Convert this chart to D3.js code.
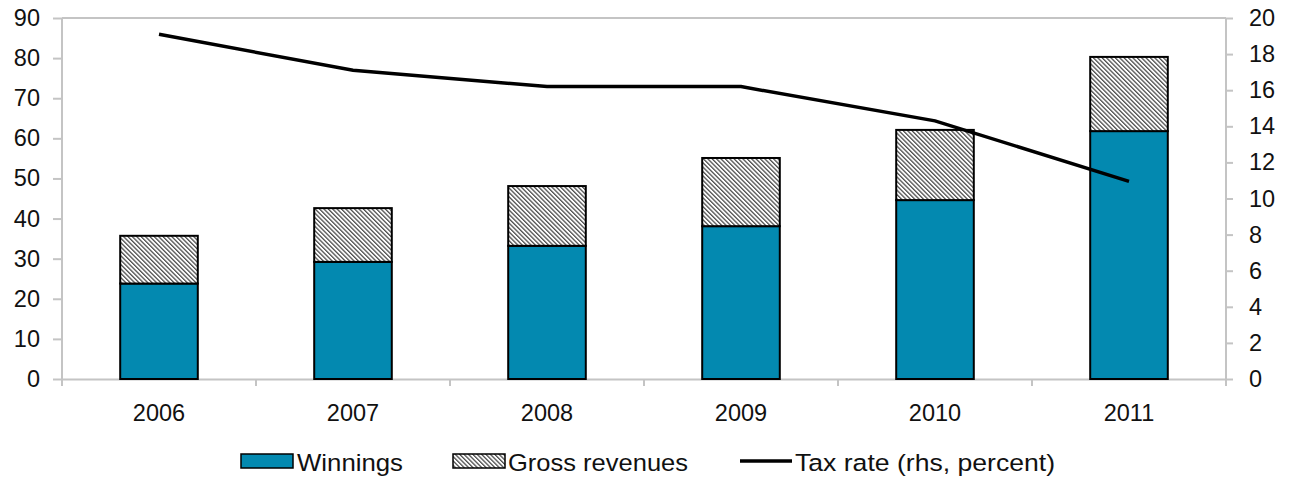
<!DOCTYPE html>
<html>
<head>
<meta charset="utf-8">
<script src="https://cdn.jsdelivr.net/npm/d3@7"></script>
<style>
  body { margin: 0; background: #fff; }
  svg { display: block; font-family: "Liberation Sans", Arial, sans-serif; }
</style>
</head>
<body>
<svg id="chart"></svg>
<script>
const years = ['2006', '2007', '2008', '2009', '2010', '2011'];
const winnings = [23.8, 29.2, 33.2, 38.1, 44.6, 61.8];
const grossRevenues = [11.9, 13.4, 14.9, 17.0, 17.5, 18.5];
const taxRate = [19.1, 17.1, 16.2, 16.2, 14.3, 10.95];
const leftTicks = [0, 10, 20, 30, 40, 50, 60, 70, 80, 90];
const rightTicks = [0, 2, 4, 6, 8, 10, 12, 14, 16, 18, 20];

const svgWidth = 1293;
const svgHeight = 479;
const plotLeft = 62, plotRight = 1226, plotTop = 18, plotBottom = 379;
const axisGrey = '#c4c4c4';

const svg = d3.select('#chart')
  .attr('width', svgWidth)
  .attr('height', svgHeight);

// hatch for gross revenues (lines running top-left to bottom-right)
const defs = svg.append('defs');
const pat = defs.append('pattern')
  .attr('id', 'hatch')
  .attr('patternUnits', 'userSpaceOnUse')
  .attr('width', 3.1)
  .attr('height', 3.1)
  .attr('patternTransform', 'rotate(-45)');
pat.append('rect').attr('width', 3.1).attr('height', 3.1).attr('fill', '#fff');
pat.append('rect').attr('x', 0).attr('width', 1.3).attr('height', 3.1).attr('fill', '#505050');

const xScale = d3.scaleBand()
  .domain(years)
  .range([plotLeft, plotRight])
  .paddingInner(0.6)
  .paddingOuter(0.3);

const yScale = d3.scaleLinear().domain([0, 90]).range([plotBottom, plotTop]);
const y2Scale = d3.scaleLinear().domain([0, 20]).range([plotBottom, plotTop]);

// top border
svg.append('line')
  .attr('x1', plotLeft).attr('x2', plotRight)
  .attr('y1', plotTop).attr('y2', plotTop)
  .attr('stroke', axisGrey).attr('stroke-width', 2);

// axes
const yAxis = d3.axisLeft(yScale).tickValues(leftTicks).tickSize(9).tickPadding(13);
const gy = svg.append('g').attr('transform', 'translate(' + plotLeft + ',0)').call(yAxis);

const y2Axis = d3.axisRight(y2Scale).tickValues(rightTicks).tickSize(7).tickPadding(16);
const gy2 = svg.append('g').attr('transform', 'translate(' + plotRight + ',0)').call(y2Axis);

const step = (plotRight - plotLeft) / years.length;
const xAxis = d3.axisBottom(xScale).tickSize(0).tickPadding(25);
const gx = svg.append('g').attr('transform', 'translate(0,' + plotBottom + ')').call(xAxis);
gx.selectAll('.bound')
  .data(d3.range(years.length + 1))
  .enter()
  .append('line')
  .attr('class', 'bound')
  .attr('x1', (d) => plotLeft + d * step)
  .attr('x2', (d) => plotLeft + d * step)
  .attr('y1', 0).attr('y2', 7)
  .attr('stroke', axisGrey).attr('stroke-width', 2);

[gy, gy2, gx].forEach((g) => {
  g.select('.domain').attr('stroke', axisGrey).attr('stroke-width', 2);
  g.selectAll('.tick line').attr('stroke', axisGrey).attr('stroke-width', 2);
  g.selectAll('.tick text').attr('fill', '#111').style('font-size', '23.5px');
});
gy2.select('.domain').attr('d', 'M0,' + plotTop + 'V' + (plotBottom + 7));
gy.select('.domain').attr('d', 'M0,' + plotTop + 'V' + (plotBottom + 7));

// bars
svg.selectAll('.win')
  .data(years)
  .enter()
  .append('rect')
  .attr('class', 'win')
  .attr('x', (d) => xScale(d))
  .attr('width', xScale.bandwidth())
  .attr('y', (d, i) => yScale(winnings[i]))
  .attr('height', (d, i) => yScale(0) - yScale(winnings[i]))
  .attr('fill', '#0389B0')
  .attr('stroke', '#000')
  .attr('stroke-width', 2);

svg.selectAll('.gross')
  .data(years)
  .enter()
  .append('rect')
  .attr('class', 'gross')
  .attr('x', (d) => xScale(d))
  .attr('width', xScale.bandwidth())
  .attr('y', (d, i) => yScale(winnings[i] + grossRevenues[i]))
  .attr('height', (d, i) => yScale(winnings[i]) - yScale(winnings[i] + grossRevenues[i]))
  .attr('fill', 'url(#hatch)')
  .attr('stroke', '#000')
  .attr('stroke-width', 2);

// tax rate line
const line = d3.line()
  .x((d, i) => xScale(years[i]) + xScale.bandwidth() / 2)
  .y((d) => y2Scale(d));

svg.append('path')
  .datum(taxRate)
  .attr('d', line)
  .attr('fill', 'none')
  .attr('stroke', '#000')
  .attr('stroke-width', 3.5);

// legend
const legend = svg.append('g').style('font-size', '24.5px').attr('fill', '#111');
legend.append('rect').attr('x', 241).attr('y', 454).attr('width', 52).attr('height', 14)
  .attr('fill', '#0389B0').attr('stroke', '#000').attr('stroke-width', 1.5);
legend.append('text').attr('x', 297).attr('y', 471)
  .attr('textLength', 106).attr('lengthAdjust', 'spacingAndGlyphs').text('Winnings');
legend.append('rect').attr('x', 453).attr('y', 454).attr('width', 52).attr('height', 14)
  .attr('fill', 'url(#hatch)').attr('stroke', '#000').attr('stroke-width', 1.5);
legend.append('text').attr('x', 508).attr('y', 471)
  .attr('textLength', 180).attr('lengthAdjust', 'spacingAndGlyphs').text('Gross revenues');
legend.append('line').attr('x1', 740).attr('x2', 792).attr('y1', 461).attr('y2', 461)
  .attr('stroke', '#000').attr('stroke-width', 3.5);
legend.append('text').attr('x', 795).attr('y', 471)
  .attr('textLength', 260).attr('lengthAdjust', 'spacingAndGlyphs').text('Tax rate (rhs, percent)');
</script>
</body>
</html>
